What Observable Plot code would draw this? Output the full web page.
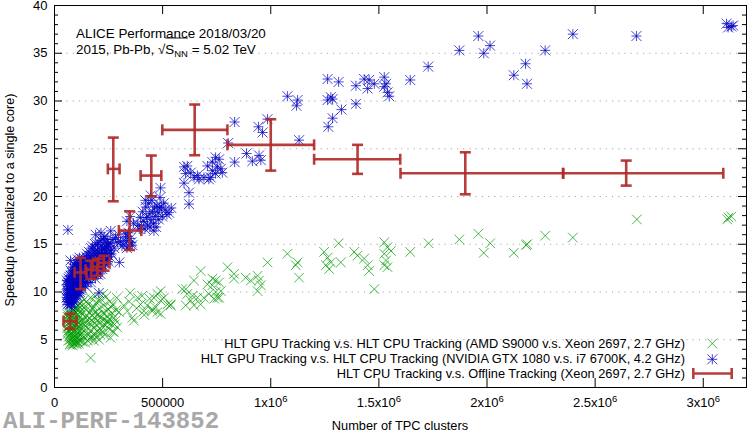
<!DOCTYPE html>
<html><head><meta charset="utf-8">
<script src="https://cdn.jsdelivr.net/npm/d3@7"></script>
<script src="https://cdn.jsdelivr.net/npm/@observablehq/plot@0.6"></script>
<style>body{margin:0;background:#fff;} svg{display:block;}</style>
</head><body><div id="chart"></div>
<script>
// ---------- DATA ----------
// HLT GPU vs HLT CPU (AMD S9000 vs Xeon 2697): [TPC clusters in thousands, speedup]
const gpuAmd = [
[58,6.2],[59,7.1],[60,5.6],[61,6.7],[62,7.6],[63,5.9],[64,6.4],[65,7.3],[66,5.3],[67,6.8],[68,6.0],[69,7.7],[70,5.5],[71,6.5],[72,7.2],[73,5.0],[74,6.1],[75,6.9],[76,5.7],[77,7.5],[78,4.8],[79,6.3],[80,7.0],[81,5.4],[82,6.6],[83,7.9],[84,5.1],[85,6.2],[86,7.3],[87,4.6],[88,5.8],[89,6.9],[90,7.6],[91,5.3],[92,6.4],[93,8.0],[94,4.9],[95,6.0],[96,7.1],[97,5.6],[98,6.7],[99,7.8],[100,4.7],[101,5.9],[102,6.5],[103,8.1],[104,5.2],[105,7.0],[106,6.2],[107,4.8],[108,7.6],[109,5.7],[110,6.8],[111,8.3],[112,5.4],[113,6.4],[114,7.3],[115,4.9],[116,6.0],[117,7.9],[118,5.5],[119,6.9],[120,8.4],
[60,7.4],[63,4.9],[66,7.9],[70,4.5],[73,7.8],[77,4.5],[80,8.2],[84,4.4],[88,8.0],[92,4.6],[96,8.3],[100,5.3],[104,4.5],[108,8.6],[112,4.6],[116,8.8],[120,4.9],
[123,6.5],[125,5.6],[127,7.8],[129,6.1],[132,7.0],[134,5.3],[136,8.4],[138,6.6],[140,7.4],[143,5.8],[145,6.9],[147,8.1],[150,6.3],[152,7.5],[155,5.5],[157,8.7],[160,6.8],[162,7.2],[165,5.9],[167,3.1],[168,8.0],[170,6.5],[173,7.6],[175,5.2],[178,6.9],[180,8.5],[183,6.2],[185,7.3],[188,5.6],[190,7.9],[193,6.6],[195,8.9],[198,7.0],[200,6.0],[203,7.6],[206,5.0],[208,8.3],[211,6.8],[214,7.3],[217,9.2],[220,6.4],[223,7.8],[226,5.8],[229,8.6],[232,7.1],[235,6.5],[238,9.5],[242,7.5],[245,6.9],[248,8.2],[252,7.2],[256,9.0],[260,6.7],[265,7.8],[270,8.7],[275,7.3],[244,6.8],[259,5.2],[274,5.8],[290,6.3],[282,7.0],[285,8.1],
[126,8.9],[131,4.8],[137,9.2],[142,4.7],[149,9.0],[154,4.9],[161,5.1],[166,9.4],[172,5.4],[177,8.3],[182,4.9],[187,9.6],[192,5.3],[197,7.6],[202,9.1],[210,5.6],[215,6.0],[225,9.8],[232,5.5],[240,8.0],[250,6.2],[262,8.4],[268,5.9],[278,6.6],[288,9.4],
[298,7.9],[320,8.6],[337,8.0],[345,9.0],[360,7.3],[367,7.0],[380,8.3],[398,8.7],[405,9.6],[413,8.0],[429,8.6],[440,9.3],[452,8.2],[460,9.4],[468,8.4],[476,9.8],[476,7.9],[491,10.1],[491,9.1],[491,7.7],[506,9.4],[522,8.7],[537,8.7],[452,8.0],[415,7.6],[385,9.4],[350,9.9],[537,8.6],
[591,10.3],[614,9.8],[630,9.1],[607,8.6],[691,9.4],[714,9.8],[738,9.3],[761,9.4],[769,10.1],[745,10.0],[676,8.7],[661,9.4],[607,10.3],[638,9.6],[645,8.6],[707,10.8],[753,9.4],
[676,12.2],[645,11.2],[730,11.4],[745,11.2],[761,11.0],[730,10.7],[800,12.6],[830,11.9],[830,11.4],[884,11.5],[908,11.2],[939,11.7],[946,11.2],[954,10.7],[939,10.1],[985,13.1],
[1077,14.0],[1124,13.1],[1116,12.8],[1131,11.5],[1247,14.2],[1263,13.6],[1278,13.1],[1270,12.4],[1324,13.1],[1255,12.8],[1314,15.1],[1386,14.2],[1401,13.8],[1432,13.5],[1448,12.8],[1455,12.2],[1479,10.3],
[1525,15.2],[1540,14.7],[1556,14.3],[1525,14.0],[1533,13.3],[1525,12.8],[1540,12.6],[1645,14.2],[1730,15.1],
[1872,15.5],[1960,16.1],[2015,15.1],[1985,14.1],[2124,14.1],[2181,14.9],[2185,15.0],[2269,15.9],[2397,15.7],[2693,17.6],[3111,17.6],[3130,17.9],[3117,17.8]
];
// HLT GPU vs HLT CPU (NVIDIA GTX 1080 vs i7 6700K): [TPC clusters in thousands, speedup]
const gpuNvidia = [
[56,9.4],[57,10.3],[58,9.0],[59,10.8],[60,9.7],[61,10.1],[62,9.2],[63,10.6],[64,9.9],[65,11.0],[66,9.4],[67,10.3],[68,8.9],[69,10.8],[70,9.7],[71,11.3],[72,10.2],[73,9.1],[74,10.7],[75,11.7],[76,9.6],[77,10.4],[78,8.9],[79,11.1],[80,10.0],[81,12.0],[82,9.4],[83,10.7],[84,11.5],[85,9.1],[86,10.2],[87,12.2],[88,9.8],[89,11.0],[90,10.4],[91,9.2],[92,11.7],[93,10.1],[94,12.4],[95,9.6],[96,10.9],[97,11.8],[98,9.9],[99,12.6],[100,10.5],[101,11.3],[102,9.7],[103,12.0],[104,10.8],[105,11.5],[106,10.1],[107,12.8],[108,11.0],[109,9.9],[110,12.2],[111,10.6],[112,11.6],[113,13.0],[114,10.3],[115,11.9],[116,12.5],[117,11.1],[118,10.0],[119,12.9],[120,11.4],
[57,11.2],[60,8.7],[64,11.4],[68,11.6],[72,8.7],[76,12.2],[80,8.8],[84,12.6],[88,9.0],[92,12.9],[96,9.3],[100,13.1],[104,9.6],[108,13.4],[112,9.9],[116,13.6],
[62,16.5],[74,13.3],[78,8.4],
[122,11.7],[124,13.1],[126,10.4],[128,12.0],[130,11.3],[133,12.8],[135,10.8],[137,13.5],[139,11.7],[141,12.4],[143,11.0],[146,13.0],[148,12.0],[150,14.0],[152,11.4],[154,12.7],[156,13.4],[158,11.9],[160,12.3],[163,13.8],[165,11.6],[167,12.9],[170,14.6],[172,12.3],[175,13.2],[177,11.8],[180,14.1],[183,12.6],[185,13.5],[188,15.0],[190,12.9],[193,13.9],[195,11.9],[198,14.4],[200,12.8],[203,13.6],[205,15.2],[208,12.5],[210,14.1],[213,13.2],[216,14.8],[219,12.9],[222,13.9],[225,15.6],[228,13.5],[232,14.5],[235,13.0],[238,15.2],[242,14.0],[246,13.4],[250,14.8],[255,13.7],[260,14.3],
[121,10.2],[125,12.6],[129,10.9],[132,13.4],[136,11.5],[140,12.9],[144,10.6],[147,13.7],[151,12.6],[155,11.0],[159,14.2],[162,12.0],[166,13.2],[169,11.0],[173,13.6],[176,14.8],[179,12.0],[182,13.0],[186,14.3],[189,11.4],[192,12.6],[196,13.2],[199,15.0],[202,11.8],[206,14.0],[209,13.4],[212,11.9],[215,15.4],[218,14.2],[221,12.4],[224,14.6],[227,13.0],[230,15.8],[234,14.0],[237,12.9],[240,14.7],[244,15.5],[248,13.2],[252,14.4],[258,15.1],[264,14.0],[270,15.5],[276,14.6],[282,15.7],[290,15.2],[296,16.0],[305,15.3],[312,14.8],
[205,9.9],[190,16.0],[215,16.2],[260,16.4],[245,15.0],[300,13.1],[245,13.6],
[320,15.0],[330,15.4],[337,15.8],[345,14.8],[350,15.6],[355,15.2],[342,16.2],[360,14.9],[335,14.6],[328,16.1],[335,17.4],[350,17.9],[365,17.2],
[385,17.0],[392,16.6],[398,17.8],[402,16.9],[408,18.4],[412,17.4],[418,16.6],[422,18.9],[426,17.8],[430,17.0],[434,19.3],[438,18.2],[442,16.8],[446,17.6],[450,19.6],[454,18.4],[458,17.2],[462,18.9],[466,17.9],[470,16.8],[474,19.0],[478,18.3],[482,17.6],[486,18.8],[490,20.9],[494,18.9],[498,17.9],[505,19.3],[512,18.6],[520,18.1],[530,18.3],[540,18.8],[488,19.9],[460,16.4],[420,19.6],[445,20.1],
[599,23.1],[614,23.2],[630,22.5],[645,22.0],[668,21.8],[691,22.0],[714,21.8],[599,21.4],[622,20.4],[707,23.2],[730,23.6],[745,24.1],[761,23.9],[769,22.9],[753,23.1],[776,22.5],[730,22.7],[745,22.4],[661,22.2],[722,22.0],[622,19.2],[606,22.4],
[833,27.8],[803,25.6],[943,27.3],[962,26.7],[985,28.1],[1131,25.9],[833,23.6],[888,24.5],[915,23.7],[946,24.3],[954,23.8],
[1263,32.3],[1314,32.0],[1077,30.5],[1124,30.1],[1119,29.5],[1263,30.1],[1278,30.4],[1286,30.2],[1327,29.1],[1286,28.2],[1266,27.3],[1394,29.7],[1394,31.6],[1432,32.3],[1455,32.2],[1479,31.8],[1448,31.3],[1525,32.5],[1533,31.8],[1525,31.5],[1540,30.9],[1548,30.5],[1645,32.2],
[1728,33.6],[1872,35.3],[1960,36.8],[2014,35.8],[1985,35.0],[2124,32.7],[2178,33.9],[2185,31.8],[2269,35.3],[2397,37.0],[2691,36.8],[3108,38.1],[3130,37.8],[3115,37.7],[3138,37.9]
];
// HLT CPU vs Offline (Xeon 2697): [x, xlow, xhigh, y, ylow, yhigh]
const cpuOffline = [
[71800,41700,101900,6.94,6.15,7.73],
[120400,92600,148200,12.05,10.31,13.56],
[169000,143500,197700,12.34,11.36,13.28],
[199100,176000,227000,12.65,11.71,13.49],
[229200,203700,254600,13.07,12.23,13.80],
[271800,246800,301000,22.89,19.50,26.17],
[347250,297700,401400,16.43,14.40,18.45],
[447700,398200,494000,22.19,20.02,24.29],
[648200,498600,799600,26.98,24.32,29.63],
[1000000,799600,1200500,25.41,22.71,28.09],
[1401400,1200500,1598700,23.90,22.37,25.41],
[1899600,1600000,2352000,22.43,20.23,24.63],
[2643700,2352000,3092800,22.43,21.14,23.76]
];
const xTicks = [0, 500000, 1000000, 1500000, 2000000, 2500000, 3000000];
const xTickLabels = ["0", "500000", "1x10^6", "1.5x10^6", "2x10^6", "2.5x10^6", "3x10^6"];
const yTicks = [0, 5, 10, 15, 20, 25, 30, 35, 40];
const yMinorTicks = [1,2,3,4,6,7,8,9,11,12,13,14,16,17,18,19,21,22,23,24,26,27,28,29,31,32,33,34,36,37,38,39];
const yGrid = [5, 10, 15, 20, 25, 30, 35];
const legendLabels = [
  "HLT GPU Tracking v.s. HLT CPU Tracking (AMD S9000 v.s. Xeon 2697, 2.7 GHz)",
  "HLT GPU Tracking v.s. HLT CPU Tracking (NVIDIA GTX 1080 v.s. i7 6700K, 4.2 GHz)",
  "HLT CPU Tracking v.s. Offline Tracking (Xeon 2697, 2.7 GHz)"
];

// ---------- STYLE ----------
const W = 747, H = 434, mL = 54, mR = 1, mT = 5, mB = 47;
const plotW = W - mL - mR, plotH = H - mT - mB;
const GREEN = "#009a00", BLUE = "#0000c0", RED = "#b02828";
const FONT = "'Liberation Sans', Arial, sans-serif";

const timesSym = {draw(c){const s=4.8;c.moveTo(-s,-s);c.lineTo(s,s);c.moveTo(-s,s);c.lineTo(s,-s);}};
const starSym = {draw(c){const s=5;c.moveTo(-s,0);c.lineTo(s,0);c.moveTo(0,-s);c.lineTo(0,s);c.moveTo(-s,-s);c.lineTo(s,s);c.moveTo(-s,s);c.lineTo(s,-s);}};
const vCap = {draw(c){c.moveTo(0,-5.5);c.lineTo(0,5.5);}};
const hCap = {draw(c){c.moveTo(-5.5,0);c.lineTo(5.5,0);}};

const fmtX = d => xTickLabels[xTicks.indexOf(d)];

const chart = Plot.plot({
  width: W, height: H,
  marginLeft: mL, marginRight: mR, marginTop: mT, marginBottom: mB,
  style: {fontFamily: FONT, fontSize: "13px", color: "black", background: "white"},
  x: {domain: [0, 3200000]},
  y: {domain: [0, 40]},
  marks: [
    Plot.ruleY(yGrid, {stroke: "#a8a8a8", strokeDasharray: "1.2,5", strokeWidth: 1}),
    Plot.dot(gpuAmd, {x: d => d[0]*1000, y: d => d[1], symbol: timesSym, r: 4, fill: "none", stroke: GREEN, strokeOpacity: 0.7, strokeWidth: 1}),
    Plot.dot(gpuNvidia, {x: d => d[0]*1000, y: d => d[1], symbol: starSym, r: 4, fill: "none", stroke: BLUE, strokeOpacity: 0.72, strokeWidth: 1}),
    Plot.link(cpuOffline, {x1: d => d[1], x2: d => d[2], y1: d => d[3], y2: d => d[3], stroke: RED, strokeWidth: 2.6, strokeOpacity: 0.9}),
    Plot.link(cpuOffline, {x1: d => d[0], x2: d => d[0], y1: d => d[4], y2: d => d[5], stroke: RED, strokeWidth: 2.6, strokeOpacity: 0.9}),
    Plot.dot(cpuOffline, {x: d => d[1], y: d => d[3], symbol: vCap, r: 4, fill: "none", stroke: RED, strokeWidth: 2.6, strokeOpacity: 0.9}),
    Plot.dot(cpuOffline, {x: d => d[2], y: d => d[3], symbol: vCap, r: 4, fill: "none", stroke: RED, strokeWidth: 2.6, strokeOpacity: 0.9}),
    Plot.dot(cpuOffline, {x: d => d[0], y: d => d[4], symbol: hCap, r: 4, fill: "none", stroke: RED, strokeWidth: 2.6, strokeOpacity: 0.9}),
    Plot.dot(cpuOffline, {x: d => d[0], y: d => d[5], symbol: hCap, r: 4, fill: "none", stroke: RED, strokeWidth: 2.6, strokeOpacity: 0.9}),
    Plot.frame({stroke: "black", strokeWidth: 1}),
    Plot.tickY(yTicks, {y: d => d, insetRight: plotW - 8, stroke: "black"}),
    Plot.tickY(yTicks, {y: d => d, insetLeft: plotW - 8, stroke: "black"}),
    Plot.tickY(yMinorTicks, {y: d => d, insetRight: plotW - 4, stroke: "black"}),
    Plot.tickY(yMinorTicks, {y: d => d, insetLeft: plotW - 4, stroke: "black"}),
    Plot.tickX(xTicks, {x: d => d, insetBottom: plotH - 9, stroke: "black"}),
    Plot.tickX(xTicks, {x: d => d, insetTop: plotH - 9, stroke: "black"}),
    Plot.axisY(yTicks, {tickSize: 0, tickPadding: 7, fontSize: 13, label: null}),
    Plot.axisX(xTicks, {tickSize: 0, tickPadding: 10, fontSize: 13, label: null, tickFormat: fmtX})
  ]
});
document.getElementById("chart").appendChild(chart);

const svg = d3.select(chart);
// superscripts on x tick labels
svg.selectAll("g[aria-label='x-axis tick label'] text").each(function(){
  const t = d3.select(this);
  const s = t.text();
  if (s.includes("^")) {
    const [base, exp] = s.split("^");
    t.text(base);
    t.append("tspan").attr("dy", "-0.45em").attr("font-size", "9.5px").text(exp);
  }
});
const txt = (x, y, s, o = {}) => svg.append("text").attr("x", x).attr("y", y)
  .attr("font-family", o.family || FONT).attr("font-size", o.size || 12.5)
  .attr("fill", o.fill || "black").attr("text-anchor", o.anchor || "start")
  .attr("font-weight", o.weight || "normal").text(s);

// axis titles
svg.append("text").attr("transform", `translate(14,200) rotate(-90)`)
  .attr("text-anchor", "middle").attr("font-family", FONT).attr("font-size", 12.6).text("Speedup (normalized to a single core)");
txt(mL + plotW/2, 430, "Number of TPC clusters", {anchor: "middle", size: 12.8});
txt(3, 427.5, "ALI-PERF-143852", {family: "'Liberation Mono', 'Courier New', monospace", size: 24, weight: "bold", fill: "#a8a8a8"});

// annotation
txt(76, 37.5, "ALICE Performance 2018/03/20", {size: 13.4});
const l2 = svg.append("text").attr("x", 76).attr("y", 54).attr("font-family", FONT).attr("font-size", 13.4).attr("text-anchor", "start");
l2.append("tspan").text("2015, Pb-Pb, \u221AS");
l2.append("tspan").attr("dy", 3).attr("font-size", 9.5).text("NN");
l2.append("tspan").attr("dy", -3).text(" = 5.02 TeV");
const n = l2.node();
const ox1 = n.getStartPositionOfChar(14).x, ox2 = n.getEndPositionOfChar(16).x;
svg.append("line").attr("x1", ox1).attr("x2", ox2).attr("y1", 38).attr("y2", 38).attr("stroke", "black").attr("stroke-width", 0.9);

// legend
const lx = 685, ly = [348, 363, 377.5], sx = 712.3;
legendLabels.forEach((s, i) => txt(lx, ly[i], s, {anchor: "end", size: 12.8}));
const g = svg.append("g").attr("fill", "none");
g.append("path").attr("d", d3.symbol(timesSym)()).attr("transform", `translate(${sx},343.5)`).attr("stroke", GREEN).attr("stroke-opacity", 0.75);
g.append("path").attr("d", d3.symbol(starSym)()).attr("transform", `translate(${sx},359.3)`).attr("stroke", BLUE).attr("stroke-opacity", 0.75);
const ry = 373.5;
g.append("path").attr("d", `M693.3,${ry}H731.7M693.3,${ry-5.5}V${ry+5.5}M731.7,${ry-5.5}V${ry+5.5}`).attr("stroke", RED).attr("stroke-width", 2.6).attr("stroke-opacity", 0.9);
</script></body></html>
